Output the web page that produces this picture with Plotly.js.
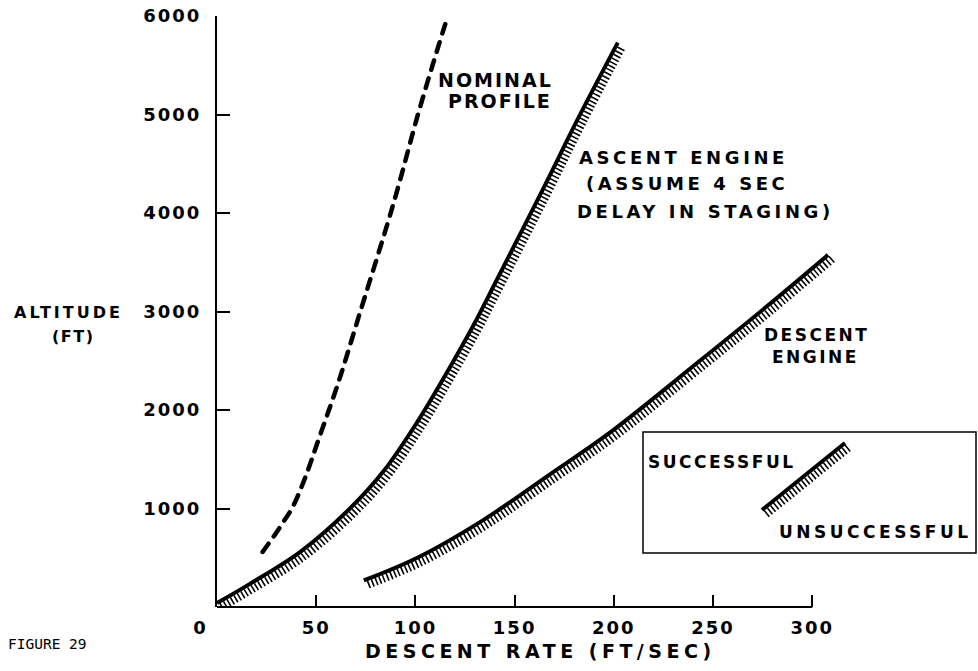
<!DOCTYPE html>
<html><head><meta charset="utf-8">
<script src="https://cdn.plot.ly/plotly-3.0.1.min.js"></script>
<style>
html,body{margin:0;padding:0;background:#fff;}
.xtick text,.ytick text{letter-spacing:2px;}
</style>
</head><body><div id="chart" style="width:978px;height:671px;"></div>
<script>
// ---- data (descent rate ft/sec, altitude ft) ----
const nominalRate = [23, 28, 33, 38, 44, 51, 61, 72, 89, 101, 108.5, 116];
const nominalAlt  = [560, 700, 850, 1010, 1290, 1690, 2270, 2985, 4100, 4980, 5490, 5980];
const ascentRate  = [0, 17, 42, 67, 84, 101, 115, 129, 141, 164, 182, 202];
const ascentAlt   = [40, 240, 560, 1000, 1380, 1880, 2350, 2850, 3320, 4230, 4960, 5730];
const descentRate = [74, 101, 134, 168, 198, 244, 277, 308];
const descentAlt  = [270, 500, 880, 1350, 1770, 2510, 3050, 3575];
const xTickVals = [0, 50, 100, 150, 200, 250, 300];
const xTickText = ['0\u00a0\u00a0\u00a0\u00a0', '50', '100', '150', '200', '250', '300'];
const yTickVals = [1000, 2000, 3000, 4000, 5000, 6000];
const yTickText = ['1000', '2000', '3000', '4000', '5000', '6000'];

// ---- geometry ----
const L = 217, T = 16, W = 625, H = 591;
const X_RANGE = [0, 315], Y_RANGE = [0, 6000];
const HATCH_DX = 4.2, HATCH_DY = 4.2; // pixel offset of hatch band
const xUnit = W / (X_RANGE[1] - X_RANGE[0]);
const yUnit = H / (Y_RANGE[1] - Y_RANGE[0]);
const xHatchRange = [X_RANGE[0] - HATCH_DX / xUnit, X_RANGE[1] - HATCH_DX / xUnit];
const yHatchRange = [Y_RANGE[0] + HATCH_DY / yUnit, Y_RANGE[1] + HATCH_DY / yUnit];
const px = x => (x - L) / W;
const py = y => (T + H - y) / H;

const FONT = 'DejaVu Sans';
const HATCH = {color: 'black', width: 8, dash: '1.6px,2.4px', shape: 'spline'};
const SOLID = {color: 'black', width: 4, shape: 'spline'};

const traces = [
  {x: nominalRate, y: nominalAlt, mode: 'lines', line: {color: 'black', width: 4.5, dash: '10px,9px', shape: 'spline'}, hoverinfo: 'skip'},
  {x: ascentRate, y: ascentAlt, xaxis: 'x2', yaxis: 'y2', mode: 'lines', line: HATCH, hoverinfo: 'skip'},
  {x: ascentRate, y: ascentAlt, mode: 'lines', line: SOLID, hoverinfo: 'skip'},
  {x: descentRate, y: descentAlt, xaxis: 'x2', yaxis: 'y2', mode: 'lines', line: HATCH, hoverinfo: 'skip'},
  {x: descentRate, y: descentAlt, mode: 'lines', line: SOLID, hoverinfo: 'skip'}
];

function ann(text, cx, cy, size, sp, extra) {
  return Object.assign({
    xref: 'paper', yref: 'paper', x: px(cx), y: py(cy),
    xanchor: 'center', yanchor: 'middle', showarrow: false,
    text: '<span style="letter-spacing:' + sp + 'px">' + text + '</span>',
    font: {family: FONT, size: size, color: 'black', weight: 700}
  }, extra || {});
}

const annotations = [
  ann('NOMINAL', 495, 80, 19, 2),
  ann('PROFILE', 500, 101, 19, 2),
  ann('ASCENT ENGINE', 683, 157, 18, 3.6),
  ann('(ASSUME 4 SEC', 687, 184, 18, 3.6),
  ann('DELAY IN STAGING)', 705, 212, 18, 3.6),
  ann('DESCENT', 816, 335, 17, 2.5),
  ann('ENGINE', 815, 357, 17, 2.5),
  ann('SUCCESSFUL', 722, 462, 17, 2.5),
  ann('UNSUCCESSFUL', 875, 532, 17, 3.5),
  ann('DESCENT RATE (FT/SEC)', 540, 651, 19, 4.5),
  ann('ALTITUDE', 68, 312, 16, 3),
  ann('(FT)', 73, 336, 16, 1.5),
  {xref: 'paper', yref: 'paper', x: px(6), y: py(644), xanchor: 'left', yanchor: 'middle', showarrow: false,
   text: 'FIGURE 29', font: {family: 'DejaVu Sans Mono', size: 14.5, color: 'black'}}
];

const shapes = [
  // x axis line from 0 to 300
  {type: 'line', xref: 'x', yref: 'paper', x0: 0, x1: 300, y0: 0, y1: 0, line: {color: 'black', width: 2}},
  // key box
  {type: 'rect', xref: 'paper', yref: 'paper', x0: px(643), x1: px(976), y0: py(553), y1: py(432), line: {color: 'black', width: 1.5}},
  // key sample: hatch then solid
  {type: 'line', xref: 'paper', yref: 'paper', x0: px(762 + HATCH_DX), y0: py(510 + HATCH_DY), x1: px(845 + HATCH_DX), y1: py(443 + HATCH_DY), line: {color: 'black', width: 8, dash: '1.6px,2.4px'}},
  {type: 'line', xref: 'paper', yref: 'paper', x0: px(762), y0: py(510), x1: px(845), y1: py(443), line: {color: 'black', width: 4}}
];

const tickFont = {family: FONT, size: 18, color: 'black', weight: 700};
const layout = {
  width: 978, height: 671,
  margin: {l: L, r: 978 - L - W, t: T, b: 671 - T - H, pad: 0},
  paper_bgcolor: 'white', plot_bgcolor: 'white',
  showlegend: false,
  xaxis: {range: X_RANGE, showline: false, showgrid: false, zeroline: false,
          ticks: 'inside', ticklen: 12, tickwidth: 2, tickcolor: 'black',
          tickmode: 'array', tickvals: xTickVals, ticktext: xTickText,
          tickfont: tickFont, ticklabelstandoff: 8},
  yaxis: {range: Y_RANGE, showline: true, linewidth: 2, linecolor: 'black', showgrid: false, zeroline: false,
          ticks: 'inside', ticklen: 13, tickwidth: 2, tickcolor: 'black',
          tickmode: 'array', tickvals: yTickVals, ticktext: yTickText,
          tickfont: tickFont, ticklabelstandoff: 10},
  xaxis2: {range: xHatchRange, overlaying: 'x', visible: false},
  yaxis2: {range: yHatchRange, overlaying: 'y', visible: false},
  annotations: annotations,
  shapes: shapes
};

Plotly.newPlot('chart', traces, layout, {staticPlot: true}).then(function (gd) {
  // rounded dash ends for the nominal profile
  gd.querySelectorAll('path.js-line').forEach(function (p) {
    var da = window.getComputedStyle(p).strokeDasharray || '';
    if (/^\s*10/.test(da)) {
      p.style.strokeLinecap = 'round';
      p.setAttribute('stroke-linecap', 'round');
    }
  });
});
</script>
</body></html>
